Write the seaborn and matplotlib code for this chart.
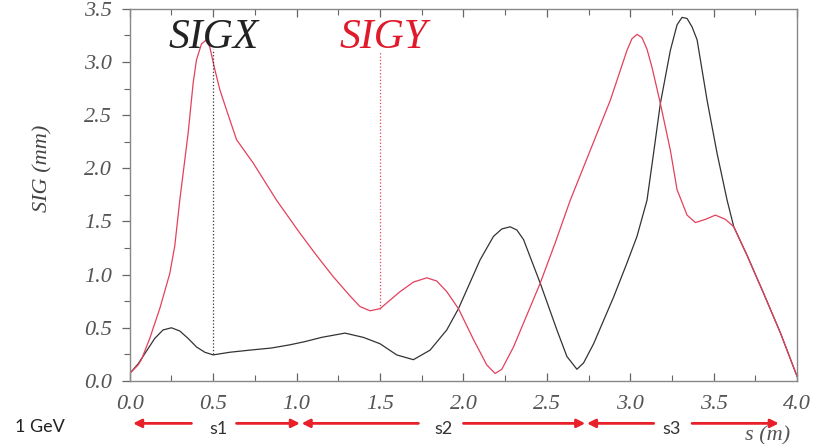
import matplotlib
matplotlib.use("Agg")
import matplotlib.pyplot as plt
import seaborn as sns
from matplotlib.ticker import MultipleLocator, FormatStrFormatter
import matplotlib.transforms as mtransforms

# ---------------- data ----------------
s_x = [0.00, 0.05, 0.10, 0.15, 0.20, 0.25, 0.30, 0.35, 0.40, 0.45, 0.50, 0.60,
       0.72, 0.85, 0.96, 1.05, 1.15, 1.29, 1.40, 1.50, 1.60, 1.70, 1.80, 1.90,
       1.97, 2.10, 2.18, 2.23, 2.28, 2.32, 2.36, 2.46, 2.56, 2.62, 2.68, 2.72,
       2.78, 2.90, 2.98, 3.04, 3.10, 3.14, 3.18, 3.24, 3.28, 3.31, 3.34, 3.37,
       3.40, 3.46, 3.52, 3.58, 3.62, 3.70, 3.80, 3.90, 4.00]
sigx = [0.07, 0.16, 0.28, 0.40, 0.48, 0.50, 0.47, 0.40, 0.32, 0.27, 0.245, 0.27,
        0.29, 0.31, 0.34, 0.37, 0.41, 0.45, 0.41, 0.35, 0.245, 0.20, 0.29, 0.48,
        0.68, 1.14, 1.36, 1.43, 1.45, 1.42, 1.33, 0.92, 0.48, 0.23, 0.11, 0.17,
        0.35, 0.79, 1.11, 1.36, 1.70, 2.15, 2.61, 3.11, 3.35, 3.42, 3.41, 3.33,
        3.21, 2.64, 2.14, 1.70, 1.45, 1.18, 0.82, 0.45, 0.04]

s_y = [0.00, 0.05, 0.07, 0.12, 0.18, 0.24, 0.27, 0.30, 0.35, 0.38, 0.40, 0.43,
       0.46, 0.48, 0.51, 0.54, 0.58, 0.64, 0.74, 0.88, 1.02, 1.12, 1.22, 1.32,
       1.38, 1.44, 1.50, 1.62, 1.70, 1.78, 1.84, 1.90, 1.97, 2.06, 2.14, 2.19,
       2.23, 2.30, 2.46, 2.55, 2.64, 2.76, 2.88, 2.98, 3.01, 3.04, 3.07, 3.10,
       3.13, 3.18, 3.24, 3.28, 3.34, 3.39, 3.45, 3.51, 3.57, 3.62, 3.70, 3.80,
       3.90, 4.00]
sigy = [0.07, 0.15, 0.20, 0.40, 0.68, 1.01, 1.27, 1.70, 2.33, 2.80, 3.02, 3.17,
        3.21, 3.14, 2.93, 2.74, 2.55, 2.27, 2.05, 1.70, 1.39, 1.18, 0.98, 0.80,
        0.70, 0.66, 0.68, 0.84, 0.93, 0.97, 0.94, 0.84, 0.68, 0.39, 0.15, 0.07,
        0.11, 0.32, 0.92, 1.30, 1.70, 2.17, 2.64, 3.11, 3.22, 3.26, 3.23, 3.12,
        2.95, 2.61, 2.17, 1.80, 1.56, 1.49, 1.52, 1.56, 1.52, 1.45, 1.18, 0.82,
        0.45, 0.04]

# dotted markers: (s, v_bottom, v_top)
marker_x = [0.5, 0.25, 3.12]
marker_y = [1.5, 0.68, 3.10]

# section arrows below the axis: (tail_s, head_s)
arrow_segments = [(0.37, 0.02), (0.64, 1.02), (1.73, 1.03), (2.00, 2.73),
                  (3.14, 2.74), (3.37, 3.89)]
section_labels = ["s1", "s2", "s3"]
section_pos = [0.53, 1.88, 3.25]

# ---------------- drawing ----------------
sns.set_theme(style="white")
plt.rcParams["font.family"] = ["Liberation Serif", "DejaVu Serif"]

fig = plt.figure(figsize=(8.21, 4.44), dpi=100)
ax = fig.add_axes([0.158, 0.142, 0.813, 0.838])

RED = "#e4405c"
BLACK = "#333333"

sns.lineplot(x=s_x, y=sigx, sort=False, estimator=None, color=BLACK, lw=0.9, ax=ax)
sns.lineplot(x=s_y, y=sigy, sort=False, estimator=None, color=RED, lw=0.9, ax=ax)

ax.vlines(marker_x[0], marker_x[1], marker_x[2], colors=BLACK, linestyles=":", lw=0.9)
ax.vlines(marker_y[0], marker_y[1], marker_y[2], colors=RED, linestyles=":", lw=0.9)

ax.set_xlim(0, 4.0)
ax.set_ylim(0, 3.5)
ax.xaxis.set_major_locator(MultipleLocator(0.5))
ax.xaxis.set_minor_locator(MultipleLocator(0.25))
ax.yaxis.set_major_locator(MultipleLocator(0.5))
ax.yaxis.set_minor_locator(MultipleLocator(0.25))
ax.xaxis.set_major_formatter(FormatStrFormatter("%.1f"))
ax.yaxis.set_major_formatter(FormatStrFormatter("%.1f"))

for sp in ax.spines.values():
    sp.set_color("#888888")
    sp.set_linewidth(1.0)

ax.tick_params(axis="x", which="both", direction="in", top=True, bottom=True,
               color="#666666", labelcolor="#555555", labelsize=16, pad=10)
ax.tick_params(axis="x", which="major", length=6, width=0.9)
ax.tick_params(axis="x", which="minor", length=4, width=0.8)
ax.tick_params(axis="y", which="both", direction="out", left=True,
               color="#666666", labelcolor="#555555", labelsize=16, pad=7)
ax.tick_params(axis="y", which="major", length=6, width=0.9)
ax.tick_params(axis="y", which="minor", length=4, width=0.8)
for lab in ax.get_xticklabels() + ax.get_yticklabels():
    lab.set_fontstyle("italic")

ax.set_xlabel("")
ax.set_ylabel("SIG (mm)", fontsize=16, style="italic", color="#444444")
ax.yaxis.set_label_coords(-0.115, 0.57)

ax.text(0.50, 3.13, "SIGX", fontsize=30, style="italic", color="#222222",
        ha="center", va="baseline")
ax.text(1.52, 3.13, "SIGY", fontsize=30, style="italic", color="#e01a2a",
        ha="center", va="baseline")

# bottom annotations
trans = mtransforms.blended_transform_factory(ax.transData, ax.transAxes)
arrow_y = -0.114
for tail, head in arrow_segments:
    ax.annotate("", xy=(head, arrow_y), xytext=(tail, arrow_y),
                xycoords=trans, textcoords=trans, annotation_clip=False,
                arrowprops=dict(arrowstyle="-|>", color="#e8202a", lw=2.0,
                                mutation_scale=12, shrinkA=0, shrinkB=0))
for lab, pos in zip(section_labels, section_pos):
    ax.text(pos, arrow_y - 0.014, lab, transform=trans, fontsize=13,
            family=["Lato", "DejaVu Sans"], color="#333333",
            ha="center", va="center", clip_on=False)

fig.text(15 / 821, 1 - 427 / 444, "1 GeV", fontsize=13,
         family=["Lato", "DejaVu Sans"], color="#222222", ha="left", va="center")
fig.text(768 / 821, 1 - 436 / 444, "s (m)", fontsize=16, style="italic",
         color="#555555", ha="center", va="center")

fig.savefig("out.png", dpi=100)
